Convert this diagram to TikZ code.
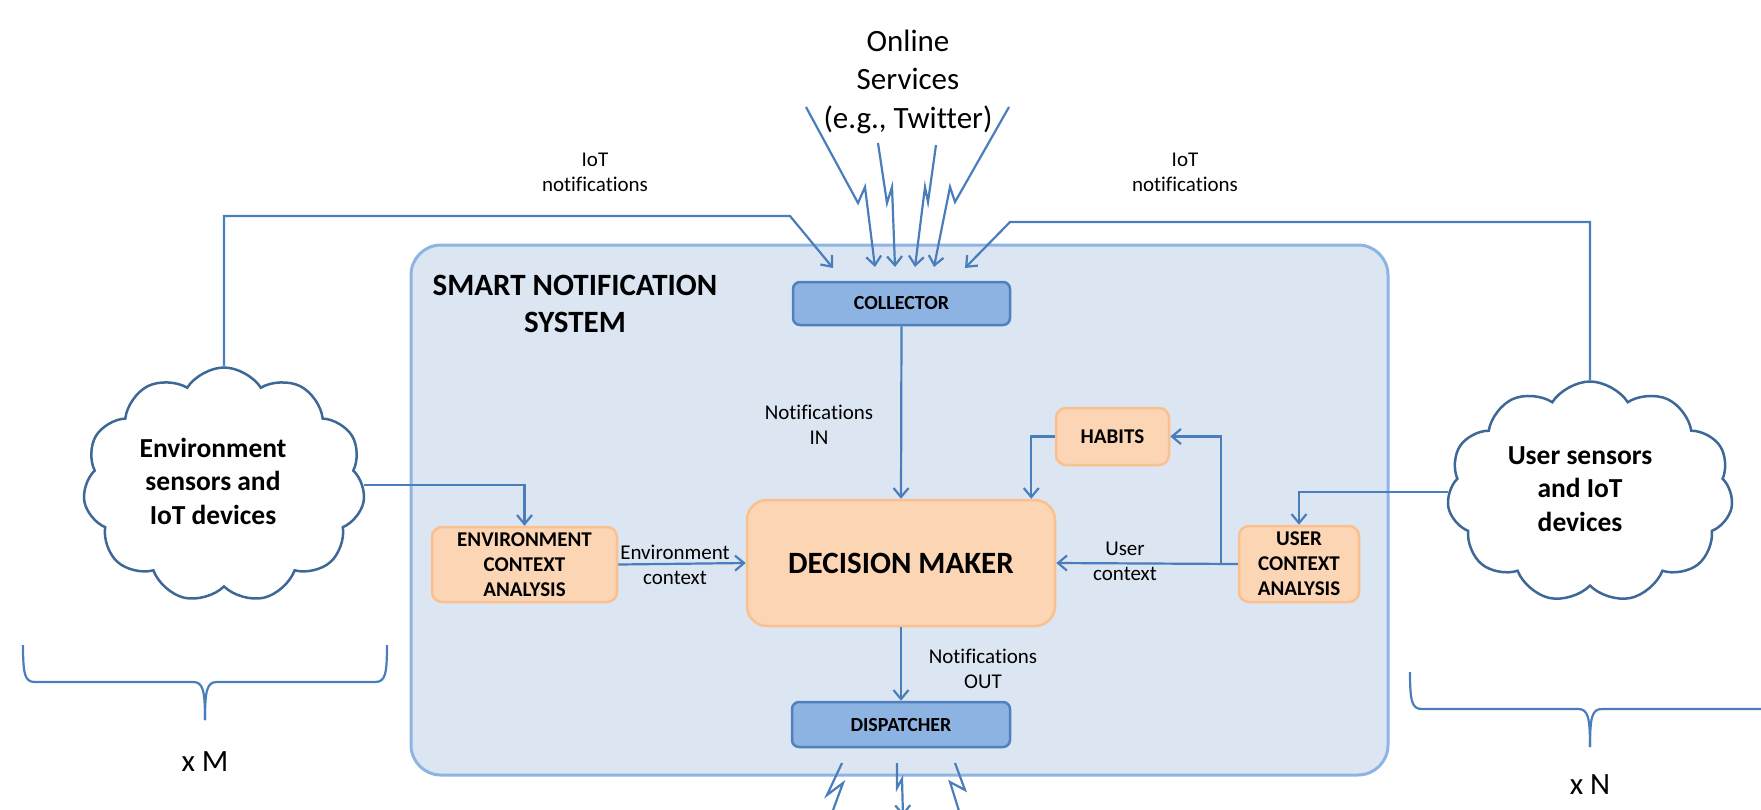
\documentclass[tikz,border=0pt]{standalone}
\usepackage{fontspec}
\setmainfont{Carlito}[Ligatures=NoCommon]
\usetikzlibrary{arrows.meta,shapes.symbols,calc}
\definecolor{sysfill}{HTML}{DCE6F2}
\definecolor{sysdraw}{HTML}{8EB4E3}
\definecolor{bluefill}{HTML}{8DB3E2}
\definecolor{bluedraw}{HTML}{4F81BD}
\definecolor{orfill}{HTML}{FCD5B4}
\definecolor{ordraw}{HTML}{FAC08F}
\definecolor{arr}{HTML}{4A7EBB}
\definecolor{cloudc}{HTML}{3E6896}
\begin{document}
\begin{tikzpicture}[x=1pt,y=-1pt,
  conn/.style={draw=arr,line width=2.2pt,-{Straight Barb[length=9pt,width=15pt,line width=2.2pt]}},
  plainline/.style={draw=arr,line width=2.2pt},
  bluebox/.style={draw=bluedraw,fill=bluefill,line width=2.5pt,rounded corners=7pt,font=\fontsize{20}{24}\selectfont\bfseries,inner sep=0pt},
  orbox/.style={draw=ordraw,fill=orfill,line width=2.5pt,rounded corners=10pt,font=\fontsize{21}{25}\selectfont\bfseries,align=center,inner sep=0pt},
  cloudnode/.style={cloud,cloud puffs=11,cloud puff arc=115,draw=cloudc,fill=white,line width=2.5pt,inner sep=0pt,cloud ignores aspect},
  cloudtxt/.style={font=\fontsize{27.5}{33.5}\selectfont\bfseries,align=center},
  lbl/.style={font=\fontsize{21}{25}\selectfont,align=center},
  bigtxt/.style={font=\fontsize{31}{38.5}\selectfont,align=center},
]
\path[use as bounding box] (0,0) rectangle (1761,809);
\clip (0,0) rectangle (1761,809);

% system container
\node[draw=sysdraw,fill=sysfill,line width=3pt,rounded corners=30pt,minimum width=977pt,minimum height=530pt] (sys) at (899.5,510) {};
\node[font=\fontsize{31}{37}\selectfont\bfseries,align=center] (title) at (575,303.5) {SMART NOTIFICATION\\SYSTEM};

% boxes
\node[bluebox,minimum width=217pt,minimum height=43pt] (collector) at (901.5,303.5) {COLLECTOR};
\node[bluebox,minimum width=218pt,minimum height=45pt] (dispatcher) at (901,724.5) {DISPATCHER};
\node[orbox,rounded corners=20pt,minimum width=308pt,minimum height=126pt,font=\fontsize{31}{34}\selectfont\bfseries] (dm) at (901,563) {DECISION MAKER};
\node[orbox,minimum width=185pt,minimum height=75pt] (envctx) at (524.5,564.5) {ENVIRONMENT\\CONTEXT\\ANALYSIS};
\node[orbox,minimum width=113pt,minimum height=57pt] (habits) at (1112.5,436.5) {HABITS};
\node[orbox,minimum width=120pt,minimum height=76pt] (userctx) at (1299,564) {USER\\CONTEXT\\ANALYSIS};

% clouds
\node[cloudnode,minimum width=282pt,minimum height=235pt] (envcloud) at (224,485) {};
\node[cloudtxt] (envtxt) at (213,481) {Environment\\sensors and\\IoT devices};
\node[cloudnode,minimum width=286pt,minimum height=221pt] (usercloud) at (1590,492) {};
\node[cloudtxt] (usertxt) at (1580,489) {User sensors\\and IoT\\devices};

% internal connectors
\draw[conn] (collector.south) -- (dm.north);
\draw[conn] (dm.south) -- (dispatcher.north);
\draw[conn] (envcloud.east) -| (envctx.north);
\draw[conn] (envctx.east) -- (dm.west);
\draw[conn] (usercloud.west) -| (userctx.north);
\draw[conn] (userctx.west) -- (dm.east);
\coordinate (split) at ($(userctx.west)+(-17,0)$);
\draw[conn] (split) |- (habits.east);
\coordinate (hdrop) at ($(dm.north east)+(-25,0)$);
\draw[conn] (habits.west) -| (hdrop);

% IoT notifications
\coordinate (lbend) at (790,216);
\coordinate (ltip) at (833,268);
\draw[conn] (envcloud.north) |- (lbend) -- (ltip);
\coordinate (rbend) at (1010,222);
\coordinate (rtip) at (965,268);
\draw[conn] (usercloud.north) |- (rbend) -- (rtip);

% online services lightning
\draw[conn] (806,107) -- (858,203) -- (865,187) -- (875,267);
\draw[conn] (878,143) -- (887,203) -- (892,187) -- (895,267);
\draw[conn] (936,145) -- (928,202) -- (925,187) -- (915,267);
\draw[conn] (1009,107) -- (955,202) -- (950,187) -- (934,267);

% dispatcher output lightning
\draw[conn] (842,763) -- (827,795) -- (843,783) -- (822,840);
\draw[conn] (897,763) -- (897,788) -- (902,779) -- (903,816);
\draw[conn] (955,763) -- (965,790) -- (950,782) -- (968,840);

% braces
\draw[plainline] (23,645) .. controls (23,675) and (25,682) .. (35,682) -- (193,682) .. controls (203,682) and (205,690) .. (205,720);
\draw[plainline] (205,720) .. controls (205,690) and (207,682) .. (217,682) -- (375,682) .. controls (385,682) and (387,675) .. (387,645);
\draw[plainline] (1410,672) .. controls (1410,702) and (1412,709) .. (1422,709) -- (1578,709) .. controls (1588,709) and (1590,717) .. (1590,747);
\draw[plainline] (1590,747) .. controls (1590,717) and (1592,709) .. (1602,709) -- (1800,709);

% labels
\node[bigtxt] (online) at (908,81.5) {Online\\Services\\(e.g., Twitter)};
\node[lbl] (iotl) at (595,172.5) {IoT\\notifications};
\node[lbl] (iotr) at (1185,172.5) {IoT\\notifications};
\node[lbl] (nin) at (819,425) {Notifications\\IN};
\node[lbl] (nout) at (983,669) {Notifications\\OUT};
\node[lbl] (envlbl) at (675,564.5) {Environment\\context};
\node[lbl] (usrlbl) at (1125,561.5) {User\\context};
\node[font=\fontsize{31}{38}\selectfont] (xm) at (205,762) {x M};
\node[font=\fontsize{31}{38}\selectfont] (xn) at (1590,785) {x N};
\end{tikzpicture}
\end{document}
